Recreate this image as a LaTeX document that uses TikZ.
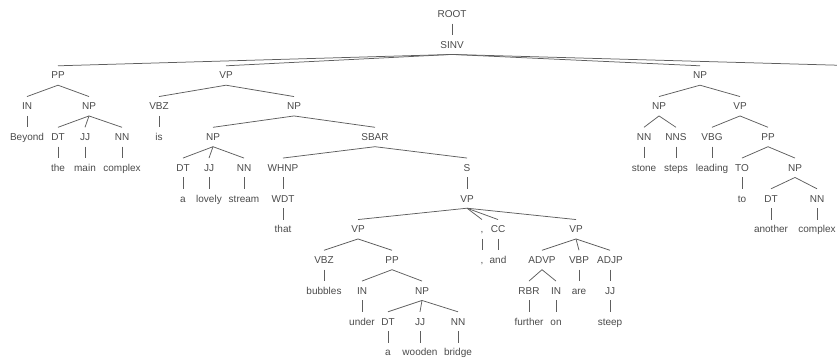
\documentclass[tikz,border=0pt]{standalone}
\usepackage{fontspec}
\setmainfont{Liberation Sans}
\definecolor{ink}{HTML}{4A4A4A}
\definecolor{wire}{HTML}{5E5E5E}
\begin{document}
\begin{tikzpicture}[x=1pt,y=-1pt,
  lab/.style={inner sep=0pt,minimum height=19pt,text height=7pt,text depth=0pt,
    font=\fontsize{10}{12}\selectfont,text=ink},
  edge/.style={draw=wire,line width=0.75pt}]
\useasboundingbox (0,0) rectangle (837,358);
% level 0-2
\node[lab] (ROOT) at (452,14) {ROOT};
\node[lab] (SINV) at (452,44.75) {SINV};
\node[lab] (PP1) at (58,75.5) {PP};
\node[lab] (VP1) at (226,75.5) {VP};
\node[lab] (NP5) at (700,75.5) {NP};
\coordinate (offright) at (837,65.2);
% PP subtree
\node[lab] (IN1) at (27,106.25) {IN};
\node[lab] (NP1) at (89,106.25) {NP};
\node[lab] (w1) at (27,137) {Beyond};
\node[lab] (DT1) at (58,137) {DT};
\node[lab] (JJ1) at (85,137) {JJ};
\node[lab] (NN1) at (122,137) {NN};
\node[lab] (w2) at (58,167.75) {the};
\node[lab] (w3) at (85,167.75) {main};
\node[lab] (w4) at (122,167.75) {complex};
% VP subtree
\node[lab] (VBZ1) at (159,106.25) {VBZ};
\node[lab] (NP2) at (294,106.25) {NP};
\node[lab] (w5) at (159,137) {is};
\node[lab] (NP3) at (213,137) {NP};
\node[lab] (SBAR) at (375,137) {SBAR};
\node[lab] (DT2) at (183,167.75) {DT};
\node[lab] (JJ2) at (209,167.75) {JJ};
\node[lab] (NN2) at (244,167.75) {NN};
\node[lab] (w6) at (183,198.5) {a};
\node[lab] (w7) at (209,198.5) {lovely};
\node[lab] (w8) at (244,198.5) {stream};
\node[lab] (WHNP) at (283,167.75) {WHNP};
\node[lab] (WDT) at (283,198.5) {WDT};
\node[lab] (w9) at (283,229.25) {that};
\node[lab] (S) at (467,167.75) {S};
\node[lab] (VP2) at (467,198.5) {VP};
\node[lab] (VP3) at (358,229.25) {VP};
\node[lab] (VBZ2) at (324,260) {VBZ};
\node[lab] (w10) at (324,290.75) {bubbles};
\node[lab] (PP2) at (392,260) {PP};
\node[lab] (IN2) at (362,290.75) {IN};
\node[lab] (w11) at (362,321.5) {under};
\node[lab] (NP4) at (422,290.75) {NP};
\node[lab] (DT3) at (388,321.5) {DT};
\node[lab] (JJ3) at (420,321.5) {JJ};
\node[lab] (NN3) at (458,321.5) {NN};
\node[lab] (w12) at (388,352.25) {a};
\node[lab] (w13) at (420,352.25) {wooden};
\node[lab] (w14) at (458,352.25) {bridge};
\node[lab] (CM) at (482,229.25) {,};
\node[lab] (w15) at (482,260) {,};
\node[lab] (CC) at (498,229.25) {CC};
\node[lab] (w16) at (498,260) {and};
\node[lab] (VP4) at (576,229.25) {VP};
\node[lab] (ADVP) at (542,260) {ADVP};
\node[lab] (VBP) at (579,260) {VBP};
\node[lab] (ADJP) at (610,260) {ADJP};
\node[lab] (RBR) at (529,290.75) {RBR};
\node[lab] (IN3) at (556,290.75) {IN};
\node[lab] (w17) at (579,290.75) {are};
\node[lab] (JJ4) at (610,290.75) {JJ};
\node[lab] (w18) at (529,321.5) {further};
\node[lab] (w19) at (556,321.5) {on};
\node[lab] (w20) at (610,321.5) {steep};
% NP subtree (right)
\node[lab] (NP6) at (659,106.25) {NP};
\node[lab] (VP5) at (740,106.25) {VP};
\node[lab] (NN4) at (644,137) {NN};
\node[lab] (NNS) at (676,137) {NNS};
\node[lab] (w21) at (644,167.75) {stone};
\node[lab] (w22) at (676,167.75) {steps};
\node[lab] (VBG) at (712,137) {VBG};
\node[lab] (w23) at (712,167.75) {leading};
\node[lab] (PP3) at (768,137) {PP};
\node[lab] (TO) at (742,167.75) {TO};
\node[lab] (w24) at (742,198.5) {to};
\node[lab] (NP7) at (795,167.75) {NP};
\node[lab] (DT4) at (771,198.5) {DT};
\node[lab] (NN5) at (817,198.5) {NN};
\node[lab] (w25) at (771,229.25) {another};
\node[lab] (w26) at (817,229.25) {complex};
% edges
\foreach \a/\b in {ROOT/SINV,SINV/PP1,SINV/VP1,SINV/NP5,
  PP1/IN1,PP1/NP1,IN1/w1,NP1/DT1,NP1/JJ1,NP1/NN1,DT1/w2,JJ1/w3,NN1/w4,
  VP1/VBZ1,VP1/NP2,VBZ1/w5,NP2/NP3,NP2/SBAR,NP3/DT2,NP3/JJ2,NP3/NN2,
  DT2/w6,JJ2/w7,NN2/w8,SBAR/WHNP,SBAR/S,WHNP/WDT,WDT/w9,S/VP2,
  VP2/VP3,VP2/CM,VP2/CC,VP2/VP4,VP3/VBZ2,VP3/PP2,VBZ2/w10,PP2/IN2,PP2/NP4,
  IN2/w11,NP4/DT3,NP4/JJ3,NP4/NN3,DT3/w12,JJ3/w13,NN3/w14,CM/w15,CC/w16,
  VP4/ADVP,VP4/VBP,VP4/ADJP,ADVP/RBR,ADVP/IN3,VBP/w17,ADJP/JJ4,RBR/w18,IN3/w19,JJ4/w20,
  NP5/NP6,NP5/VP5,NP6/NN4,NP6/NNS,NN4/w21,NNS/w22,VP5/VBG,VP5/PP3,VBG/w23,
  PP3/TO,PP3/NP7,TO/w24,NP7/DT4,NP7/NN5,DT4/w25,NN5/w26}
  \draw[edge] (\a.south) -- (\b.north);
\draw[edge] (SINV.south) -- (offright);
\end{tikzpicture}
\end{document}
